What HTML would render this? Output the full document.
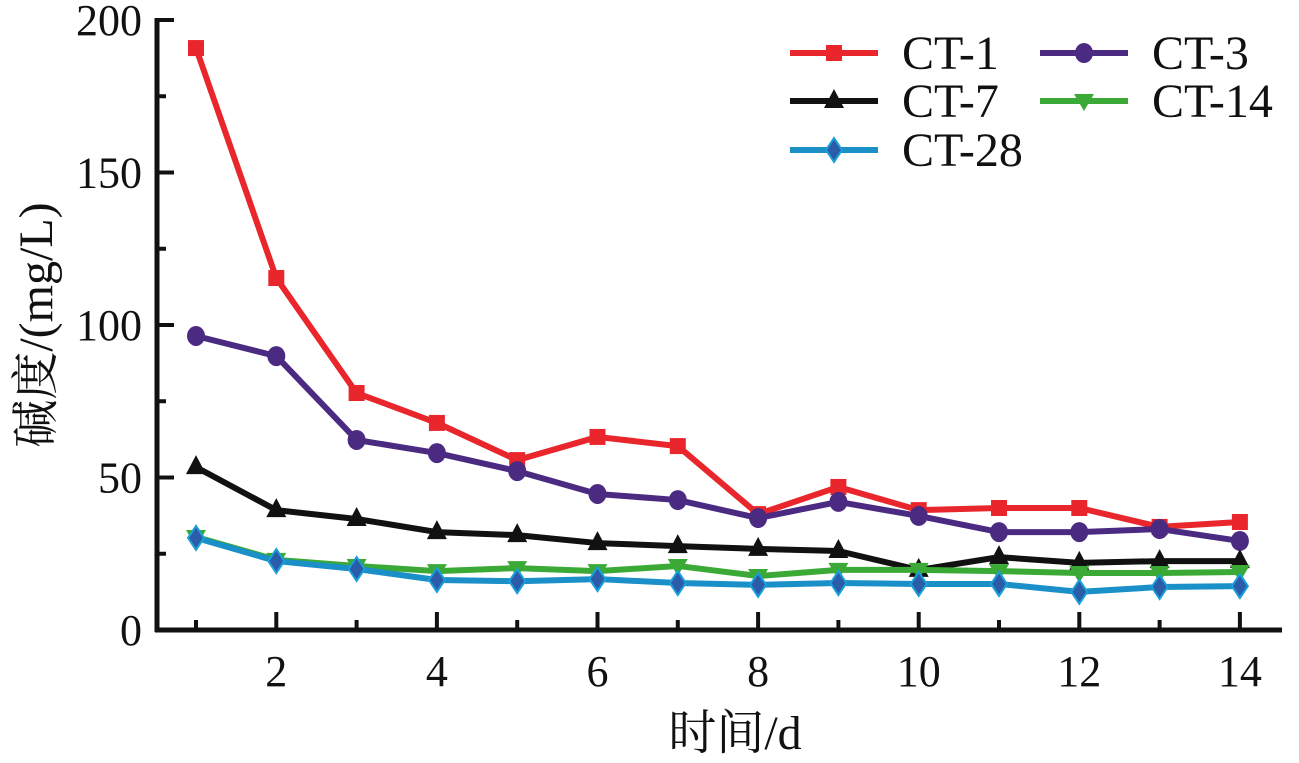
<!DOCTYPE html>
<html><head><meta charset="utf-8"><style>
body{margin:0;background:#fff;}
svg{display:block;font-family:"Liberation Serif","Noto Serif CJK SC",serif;}
</style></head><body>
<svg id="chart" width="1299" height="763"></svg>
<script>
const days=[1,2,3,4,5,6,7,8,9,10,11,12,13,14];
const ct1=[190.8,115.4,77.7,67.9,55.7,63.3,60.3,38,46.9,39.3,40,40,33.8,35.4];
const ct3=[96.4,89.8,62.3,58,52.1,44.6,42.6,36.7,42,37.4,32.1,32.1,33.1,29.2];
const ct7=[53.4,39.3,36.4,32.1,31.1,28.5,27.5,26.6,25.9,19.7,23.9,22,22.6,22.6];
const ct14=[30.5,23,21,19.3,20.3,19.3,21,17.7,19.7,19.7,19.3,18.7,18.7,19];
const ct28=[30.2,22.6,20,16.4,16,16.7,15.4,14.8,15.4,15.1,15.1,12.5,14.1,14.4];
const yTicks=[0,50,100,150,200];
const xTicks=[2,4,6,8,10,12,14];
const NS='http://www.w3.org/2000/svg';
const svg=document.getElementById('chart');
const X=v=>196+(v-1)*80.3;
const Y=v=>630-v*3.05;
function mk(t,a,p){const e=document.createElementNS(NS,t);for(const k in a)e.setAttribute(k,a[k]);(p||svg).appendChild(e);return e;}
let ax=mk('g',{});


mk('line',{x1:157,y1:18,x2:157,y2:632,stroke:'#111','stroke-width':5},ax);
mk('line',{x1:155,y1:630,x2:1282,y2:630,stroke:'#111','stroke-width':5},ax);
for(let v=0;v<=200;v+=25){const big=v%50===0;mk('line',{x1:157,y1:Y(v),x2:big?174:166,y2:Y(v),stroke:'#111','stroke-width':4},ax);}
for(let d=1;d<=14;d++){const big=d%2===0;mk('line',{x1:X(d),y1:630,x2:X(d),y2:big?612:620,stroke:'#111','stroke-width':4},ax);}
yTicks.forEach(v=>{const t=mk('text',{x:142,y:Y(v)+15,'text-anchor':'end','font-size':44,fill:'#111'});t.textContent=v;

});
xTicks.forEach(v=>{const t=mk('text',{x:X(v),y:686,'text-anchor':'middle','font-size':44,fill:'#111'});t.textContent=v;

});
let yl=mk('text',{x:0,y:0,transform:'translate(52,325) rotate(-90)','text-anchor':'middle','font-size':48,fill:'#111'});yl.textContent='碱度/(mg/L)';


let xl=mk('text',{x:735,y:749,'text-anchor':'middle','font-size':48,fill:'#111'});xl.textContent='时间/d';


function marker(shape,x,y,c,g){
 if(shape==='sq')mk('rect',{x:x-8,y:y-8,width:16,height:16,fill:c},g);
 else if(shape==='ci')mk('ellipse',{cx:x,cy:y,rx:9,ry:10,fill:c},g);
 else if(shape==='tu')mk('polygon',{points:`${x},${y-12} ${x-10},${y+7} ${x+10},${y+7}`,fill:c},g);
 else if(shape==='td')mk('polygon',{points:`${x},${y+10} ${x-10},${y-7} ${x+10},${y-7}`,fill:c},g);
 else mk('polygon',{points:`${x},${y-12} ${x-8},${y} ${x},${y+12} ${x+8},${y}`,fill:'#2a5caa',stroke:'#1aa0d8','stroke-width':2},g);
}
const series=[['ct-1',ct1,'#e8262c','sq'],['ct-3',ct3,'#4b2a82','ci'],['ct-7',ct7,'#111','tu'],['ct-14',ct14,'#3aa935','td'],['ct-28',ct28,'#1a8fc8','di']];
series.forEach(([n,d,c,s])=>{
 const g=mk('g',{});
 
 
 mk('polyline',{points:d.map((v,i)=>X(days[i])+','+Y(v)).join(' '),fill:'none',stroke:c,'stroke-width':6,'stroke-linejoin':'round'},g);
 d.forEach((v,i)=>marker(s,X(days[i]),Y(v),c,g));
});
const leg=[['CT-1','#e8262c','sq',790,53],['CT-3','#4b2a82','ci',1040,53],['CT-7','#111','tu',790,101],['CT-14','#3aa935','td',1040,101],['CT-28','#1a8fc8','di',790,150]];
leg.forEach(([n,c,s,x,y])=>{
 const g=mk('g',{});
 
 
 mk('line',{x1:x,y1:y,x2:x+88,y2:y,stroke:c,'stroke-width':6},g);
 marker(s,x+44,y,c,g);
 const t=mk('text',{x:x+112,y:y+16,'font-size':48,fill:'#111'},g);t.textContent=n;
});
</script>
</body></html>
